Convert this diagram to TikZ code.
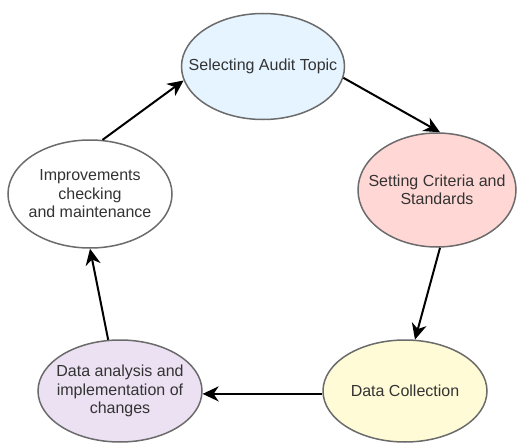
\documentclass[tikz,border=0pt]{standalone}
\usepackage{fontspec}
\setmainfont{Liberation Sans}
\usetikzlibrary{shapes.geometric,arrows.meta}
\definecolor{cblue}{HTML}{E5F4FF}
\definecolor{cpink}{HTML}{FFD8D6}
\definecolor{cyellow}{HTML}{FFFBD6}
\definecolor{cpurple}{HTML}{ECE1F2}
\definecolor{cborder}{HTML}{6B6B6B}
\definecolor{ctext}{HTML}{333333}
\begin{document}
\begin{tikzpicture}[x=1pt,y=-1pt,
  stage/.style={ellipse,draw=cborder,line width=1.5pt,inner sep=0pt},
  stagetext/.style={text=ctext,align=center,inner sep=0pt,
    font=\fontsize{16}{18.5}\selectfont},
  flow/.style={line width=2pt,black,
    -{Stealth[length=16pt,width=15pt,inset=5pt]}}]
\useasboundingbox (0,0) rectangle (517,444);
\node[stage,fill=cblue,minimum width=163pt,minimum height=106pt,
  label={[stagetext]center:Selecting Audit Topic}] (n1) at (263,66.5) {};
\node[stage,fill=cpink,minimum width=158pt,minimum height=114pt,
  label={[stagetext]center:Setting Criteria and\\Standards}] (n2) at (437,190) {};
\node[stage,fill=cyellow,minimum width=164pt,minimum height=102pt,
  label={[stagetext]center:Data Collection}] (n3) at (405,391) {};
\node[stage,fill=cpurple,minimum width=164pt,minimum height=102pt,
  label={[stagetext]center:Data analysis and\\implementation of\\changes}] (n4) at (120,391) {};
\node[stage,fill=white,minimum width=164pt,minimum height=108pt,
  label={[stagetext]center:Improvements\\checking\\and maintenance}] (n5) at (90,194) {};
\draw[flow] (n5.77) -- (n1.190);
\draw[flow] (n1.352) -- (n2.87);
\draw[flow] (n2.273) -- (n3.79);
\draw[flow] (n3.182) -- (n4.358);
\draw[flow] (n4.103) -- (n5.270);
\end{tikzpicture}
\end{document}
